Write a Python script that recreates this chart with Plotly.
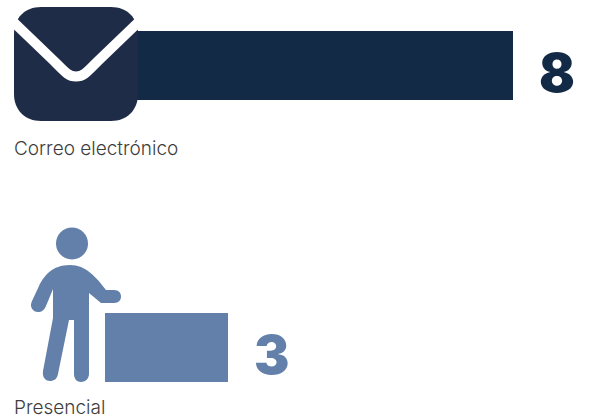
import re
import plotly.graph_objects as go

categories = ["Correo electrónico", "Presencial"]
values = [8, 3]
bar_colors = ["#122a45", "#6380aa"]
value_colors = ["#122a45", "#6380aa"]
label_color = "#3d3d3d"
icon_dark = "#1f2c47"
W, H = 589, 417
PX_PER_UNIT = 57
ROW_GAP = 282
TOP_CENTER = 65.5
label_shifts = [-83, -60]


def paper(d):
    """Turn a path written in page pixels into paper coordinates."""
    nums = iter(range(10**6))
    def rep(m):
        v = float(m.group(0))
        return f"{v / W:.5f}" if next(nums) % 2 == 0 else f"{1 - v / H:.5f}"
    return re.sub(r"-?\d+\.?\d*", rep, d)


def shape(d, fill=None, line=None, width=0):
    return dict(type="path", xref="paper", yref="paper", path=paper(d), layer="above",
                fillcolor=fill if fill else "rgba(0,0,0,0)",
                line=dict(color=line if line else "rgba(0,0,0,0)", width=width))


envelope = ("M 41 7 L 111 7 C 127 7 138 18 138 34 L 138 94 C 138 110 127 121 111 121 "
            "L 41 121 C 25 121 14 110 14 94 L 14 34 C 14 18 25 7 41 7 Z")
flap = "M 2 11 L 54 61 C 64 71 68 76.5 76 76.5 C 84 76.5 88 71 98 61 L 150 11"
mask = "M 0 313 L 105 313 L 105 382 L 0 382 Z"
k = 0.5523
head = (f"M 88 243.5 C 88 {243.5-16*k} {72+16*k} 227.5 72 227.5 C {72-16*k} 227.5 56 {243.5-16*k} 56 243.5 "
        f"C 56 {243.5+16*k} {72-16*k} 259.5 72 259.5 C {72+16*k} 259.5 88 {243.5+16*k} 88 243.5 Z")
body = ("M 70 265 C 52 265 44 276 39 286 L 32 301 C 29 307 33 312 38 312 C 42 312 44 310 46 306 "
        "L 53 289 L 53 318 L 43 371 C 42 378 46 381 50 381 C 54 381 57 379 58 374 L 69 320 L 74 320 L 74 374 "
        "C 74 379 77 382 81 382 C 85 382 89 379 89 374 L 89 293 L 101 303 L 114 303 "
        "C 119 303 121 300 121 296.5 C 121 293 119 290 114 290 L 106 290 C 96 277 86 265 70 265 Z")

fig = go.Figure()
fig.add_trace(go.Bar(
    y=categories, x=values, orientation="h", width=69 / ROW_GAP,
    marker=dict(color=bar_colors, line=dict(width=0)),
    hoverinfo="skip", showlegend=False,
))

annotations = []
for i, (c, v) in enumerate(zip(categories, values)):
    annotations.append(dict(x=v, y=c, xref="x", yref="y", text=str(v), showarrow=False,
                            xanchor="left", yanchor="middle", xshift=24, yshift=-7,
                            font=dict(family="Inter", size=53, color=value_colors[i], weight=900)))
    annotations.append(dict(x=14 / W, xref="paper", y=c, yref="y", text=c, showarrow=False,
                            xanchor="left", yanchor="middle", xshift=-2, yshift=label_shifts[i],
                            font=dict(family="Inter", size=19, color=label_color, weight=300)))

fig.update_layout(
    width=W, height=H, margin=dict(l=0, r=0, t=0, b=0),
    paper_bgcolor="white", plot_bgcolor="white",
    xaxis=dict(range=[-1, W / PX_PER_UNIT - 1], visible=False, fixedrange=True),
    yaxis=dict(type="category", categoryorder="array", categoryarray=categories,
               range=[(H - TOP_CENTER) / ROW_GAP, -TOP_CENTER / ROW_GAP], visible=False, fixedrange=True),
    shapes=[shape(mask, fill="white"), shape(envelope, fill=icon_dark),
            shape(flap, line="white", width=10), shape(head, fill=bar_colors[1]), shape(body, fill=bar_colors[1])],
    annotations=annotations,
)
fig.write_html("out.html", config=dict(displayModeBar=False), post_script="document.body.style.margin='0';")
